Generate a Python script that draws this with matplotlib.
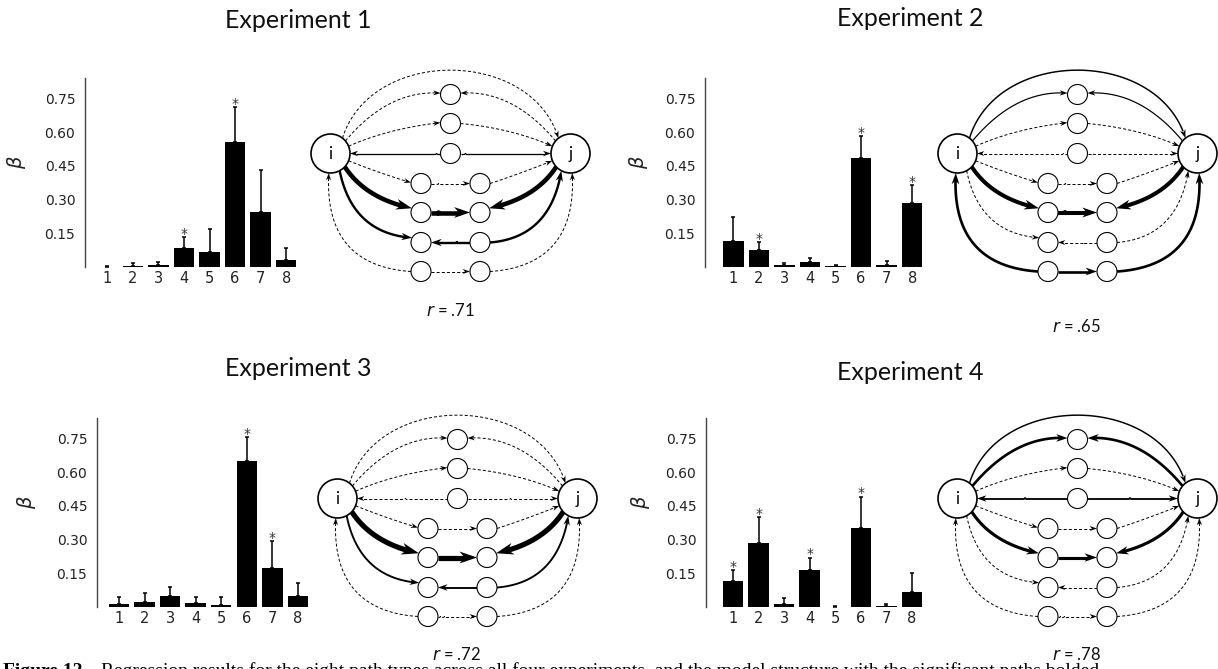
import numpy as np
import matplotlib
matplotlib.use("Agg")
import matplotlib.pyplot as plt
from matplotlib.patches import Circle, Polygon
from math import comb

# -----------------------------
# Data
# -----------------------------
paths = [1, 2, 3, 4, 5, 6, 7, 8]
titles = ["Experiment 1", "Experiment 2", "Experiment 3", "Experiment 4"]
r_values = [".71", ".65", ".72", ".78"]

beta_exp1 = [0.002, 0.003, 0.007, 0.083, 0.065, 0.554, 0.243, 0.030]
err_exp1 = [0.004, 0.016, 0.017, 0.049, 0.104, 0.156, 0.190, 0.056]
beta_exp2 = [0.114, 0.074, 0.007, 0.022, 0.003, 0.483, 0.007, 0.283]
err_exp2 = [0.110, 0.037, 0.011, 0.019, 0.007, 0.098, 0.020, 0.080]
beta_exp3 = [0.015, 0.024, 0.051, 0.019, 0.010, 0.651, 0.172, 0.051]
err_exp3 = [0.031, 0.039, 0.039, 0.024, 0.036, 0.103, 0.122, 0.056]
beta_exp4 = [0.114, 0.283, 0.012, 0.163, 0.001, 0.350, 0.003, 0.065]
err_exp4 = [0.050, 0.117, 0.027, 0.056, 0.005, 0.140, 0.010, 0.085]

stars_exp1 = [4, 6]
stars_exp2 = [2, 6, 8]
stars_exp3 = [6, 7]
stars_exp4 = [1, 2, 4, 6]

# paths drawn as solid edges in the network diagrams
solid_exp1 = [4, 6, 7]
solid_exp2 = [1, 2, 6, 8]
solid_exp3 = [6, 7]
solid_exp4 = [1, 2, 4, 6]

yticks = [0.15, 0.30, 0.45, 0.60, 0.75]

caption_head = "Figure 12."
caption_body = ("Regression results for the eight path types across all four experiments, "
                "and the model structure with the significant paths bolded")

W, H = 1218, 669
PX = 100 / 72.0  # pixels per point

# -----------------------------
# Layout (figure pixels, y down)
# -----------------------------
panels = [
    dict(beta=beta_exp1, err=err_exp1, stars=stars_exp1, solid=solid_exp1,
         axis_x=85, zero_y=267, bar1_x=107.3, title_xy=(298, 20),
         ylab_xy=(17, 162), net_c=(450.5, 153.5), r_xy=(451, 311)),
    dict(beta=beta_exp2, err=err_exp2, stars=stars_exp2, solid=solid_exp2,
         axis_x=705, zero_y=267, bar1_x=733.3, title_xy=(910, 18),
         ylab_xy=(638, 162), net_c=(1077.5, 153.5), r_xy=(1077, 326)),
    dict(beta=beta_exp3, err=err_exp3, stars=stars_exp3, solid=solid_exp3,
         axis_x=97, zero_y=607, bar1_x=119.0, title_xy=(298, 368),
         ylab_xy=(27, 502), net_c=(457.5, 498.5), r_xy=(457, 654)),
    dict(beta=beta_exp4, err=err_exp4, stars=stars_exp4, solid=solid_exp4,
         axis_x=706, zero_y=607, bar1_x=733.0, title_xy=(910, 373),
         ylab_xy=(641, 502), net_c=(1077.5, 498.5), r_xy=(1077, 654)),
]
BAR_STEP = 25.55   # px per bar
AX_H = 189         # px, 0 .. 0.84
YMAX = 0.84

# -----------------------------
# Network template (relative px, y down)
# -----------------------------
R_BIG, R_SMALL = 19.5, 10.0
NODES = {
    "i": (-120, 0, R_BIG), "j": (120, 0, R_BIG),
    "A": (0, -59, R_SMALL), "B": (0, -30, R_SMALL), "C": (0, 0, R_SMALL),
    "D1": (-29.5, 30, R_SMALL), "D2": (29.5, 30, R_SMALL),
    "E1": (-29.5, 59, R_SMALL), "E2": (29.5, 59, R_SMALL),
    "F1": (-29.5, 89, R_SMALL), "F2": (29.5, 89, R_SMALL),
    "G1": (-29.5, 118, R_SMALL), "G2": (29.5, 118, R_SMALL),
}
# segments per path: (from node, angle, to node, angle, control points); arrow at the end
EDGES = {
    1: [("i", -52, "j", -128, [(-80, -106), (80, -106)])],
    2: [("i", -40, "A", 188, [(-62, -64)]),
        ("j", -140, "A", -8, [(62, -64)])],
    3: [("i", -22, "B", 185, [(-62, -25)]),
        ("B", 0, "j", -158, [(62, -25)])],
    4: [("C", 180, "i", 0, []), ("C", 0, "j", 180, [])],
    5: [("i", 22, "D1", 185, [(-70, 20)]),
        ("D1", 0, "D2", 180, []),
        ("D2", 0, "j", 158, [(70, 20)])],
    6: [("i", 43, "E1", 205, [(-85, 45)]),
        ("E1", 0, "E2", 180, []),
        ("j", 137, "E2", -25, [(85, 45)])],
    7: [("i", 62, "F1", 208, [(-98, 80)]),
        ("F2", 180, "F1", 0, []),
        ("F2", 0, "j", 118, [(100, 84)])],
    8: [("G1", 180, "i", 95, [(-127, 112)]),
        ("G1", 0, "G2", 180, []),
        ("G2", 0, "j", 85, [(127, 112)])],
}


def bezier(pts, n=80):
    pts = np.asarray(pts, float)
    deg = len(pts) - 1
    t = np.linspace(0, 1, n)[:, None]
    out = np.zeros((n, 2))
    for k, p in enumerate(pts):
        out += comb(deg, k) * t ** k * (1 - t) ** (deg - k) * p
    return out


def draw_edge(ax, c, seg, lw_pt, dashed):
    n0, a0, n1, a1, ctrl = seg
    cx, cy = c
    x0, y0, r0 = NODES[n0]
    x1, y1, r1 = NODES[n1]
    p0 = (cx + x0 + r0 * np.cos(np.radians(a0)), cy + y0 + r0 * np.sin(np.radians(a0)))
    p1 = (cx + x1 + r1 * np.cos(np.radians(a1)), cy + y1 + r1 * np.sin(np.radians(a1)))
    pts = [p0] + [(cx + u, cy + v) for u, v in ctrl] + [p1]
    curve = bezier(pts)
    tip = curve[-1]
    lw_px = lw_pt * PX
    L = 5.0 + 2.4 * lw_px
    Wd = 0.68 * L
    dist = np.hypot(curve[:, 0] - tip[0], curve[:, 1] - tip[1])
    back = curve[np.argmax(dist < L)] if np.any(dist < L) else curve[0]
    d = tip - back
    d = d / np.hypot(*d)
    nvec = np.array([-d[1], d[0]])
    keep = curve[dist > 0.6 * L]
    if dashed:
        ax.plot(keep[:, 0], keep[:, 1], color="black", lw=lw_pt,
                dashes=(2.2 / lw_pt, 1.5 / lw_pt), solid_capstyle="butt", zorder=2)
    else:
        ax.plot(keep[:, 0], keep[:, 1], color="black", lw=lw_pt,
                solid_capstyle="butt", zorder=2)
    bc = tip - L * d
    head = [tip, bc + 0.5 * Wd * nvec, tip - 0.7 * L * d, bc - 0.5 * Wd * nvec]
    ax.add_patch(Polygon(head, closed=True, facecolor="black", edgecolor="none", zorder=3))


def draw_network(ax, c, beta, solid):
    for p in paths:
        is_solid = p in solid
        lw = 0.5 + 5.0 * beta[p - 1] if is_solid else 0.7
        for seg in EDGES[p]:
            draw_edge(ax, c, seg, lw, not is_solid)
    for name, (x, y, r) in NODES.items():
        ax.add_patch(Circle((c[0] + x, c[1] + y), r, facecolor="white", edgecolor="black",
                            lw=1.2 if r > 15 else 0.8, zorder=4))
    ax.text(c[0] - 120, c[1] + 0.5, "i", ha="center", va="center", fontsize=12,
            family="Lato", zorder=5)
    ax.text(c[0] + 120, c[1] + 0.5, "j", ha="center", va="center", fontsize=12,
            family="Lato", zorder=5)


fig = plt.figure(figsize=(W / 100, H / 100), dpi=100)
ov = fig.add_axes([0, 0, 1, 1])
ov.set_xlim(0, W)
ov.set_ylim(H, 0)
ov.axis("off")

for k, pn in enumerate(panels):
    left_units = 1 - (pn["bar1_x"] - pn["axis_x"]) / BAR_STEP
    right_units = 8.5
    ax_w = (right_units - left_units) * BAR_STEP
    ax = fig.add_axes([pn["axis_x"] / W, 1 - pn["zero_y"] / H, ax_w / W, AX_H / H])
    ax.bar(paths, pn["beta"], width=0.8, color="black", zorder=2)
    ax.errorbar(paths, pn["beta"], yerr=[np.zeros(8), pn["err"]], fmt="none",
                ecolor="black", elinewidth=1.1, capsize=1.2, capthick=1.1, zorder=3)
    for s in pn["stars"]:
        top = pn["beta"][s - 1] + pn["err"][s - 1]
        ax.annotate("*", (s, top), xytext=(0, -0.5), textcoords="offset points",
                    ha="center", va="baseline", fontsize=10, color="#333333")
    ax.set_xlim(left_units, right_units)
    ax.set_ylim(0, YMAX)
    ax.set_yticks(yticks)
    ax.set_yticklabels([f"{v:.2f}" for v in yticks], fontsize=10, color="#222222")
    ax.set_xticks(paths)
    ax.set_xticklabels([str(p) for p in paths], fontsize=10.5, color="#222222")
    ax.tick_params(axis="y", length=0, pad=7)
    ax.tick_params(axis="x", length=0, pad=3)
    for sp in ("top", "right", "bottom"):
        ax.spines[sp].set_visible(False)
    ax.spines["left"].set_color("#444444")
    ax.spines["left"].set_linewidth(1.0)
    ax.patch.set_alpha(0)

    ov.text(*pn["ylab_xy"], r"$\beta$", rotation=90, ha="center", va="center",
            fontsize=14, color="#222222")
    ov.text(*pn["title_xy"], titles[k], ha="center", va="center", fontsize=18,
            family="Lato", color="#111111")
    draw_network(ov, pn["net_c"], pn["beta"], pn["solid"])
    ov.text(*pn["r_xy"], r"$\it{r}$ = " + r_values[k], ha="center", va="center",
            fontsize=12, family="Lato", color="#111111")

# caption line, clipped by the bottom edge of the page
head = ov.text(3, 676, caption_head, ha="left", va="baseline", fontsize=14,
               family="Liberation Serif", weight="bold", color="black")
fig.canvas.draw()
hb = head.get_window_extent(renderer=fig.canvas.get_renderer())
ov.text(hb.x1 + 14, 676, caption_body, ha="left", va="baseline", fontsize=14,
        family="Liberation Serif", color="black")

fig.savefig("out.png", dpi=100)
